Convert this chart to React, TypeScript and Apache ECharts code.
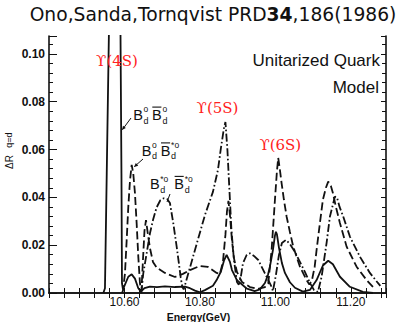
import React, { useEffect, useRef } from "react";
import * as echarts from "echarts";

// axis ranges and tick labels
const xMin = 10.4;
const xMax = 11.293;
const yMin = 0;
const yMax = 0.1075;
const xLabeledTicks = [10.6, 10.8, 11.0, 11.2];
const yLabeledTicks = [0, 0.02, 0.04, 0.06, 0.08, 0.1];

// B_d B_d-bar (solid)
const bbSolid: (number | string)[][] = [
  [10.544, 0], [10.5483, 0.002], [10.553, 0.05], [10.5589, 0.11], [10.563, 0.2], [10.585, 0.2],
  [10.5894, 0.11], [10.592, 0.05], [10.5934, 0.004], [10.596, 0.0015], [10.6013, 0.0035],
  [10.6101, 0.0068], [10.6191, 0.0078], [10.6278, 0.006], [10.6366, 0.002], [10.6437, 0.0006],
  [10.653, 0.002], [10.6675, 0.0027], [10.6861, 0.0025], [10.7073, 0.0028], [10.7338, 0.0025],
  [10.7603, 0.0027], [10.7735, 0.002], [10.7868, 0.001], [10.8, 0.0003], [10.8132, 0.0012],
  [10.8344, 0.003], [10.8442, 0.0054], [10.8556, 0.009], [10.8636, 0.0135], [10.8707, 0.0159],
  [10.8795, 0.013], [10.8848, 0.0096], [10.898, 0.0054], [10.9245, 0.0018], [10.945, 0.0008],
  [10.9589, 0.0015], [10.9722, 0.0042], [10.9801, 0.0075], [10.9854, 0.011], [10.9934, 0.018],
  [10.9987, 0.024], [11.0013, 0.0256], [11.004, 0.0245], [11.0093, 0.019], [11.0172, 0.0125],
  [11.0252, 0.0084], [11.0384, 0.0045], [11.0517, 0.0022], [11.0728, 0.0006], [11.0914, 0.0013],
  [11.1091, 0.0054], [11.1258, 0.0115], [11.1399, 0.0135], [11.1523, 0.012], [11.1709, 0.0068],
  [11.1973, 0.0026], [11.2318, 0.0005], [11.2583, 0],
];

// B_d B_d*-bar (dashed)
const bbStarDashed: number[][] = [
  [10.5934, 0], [10.596, 0.001], [10.6013, 0.0082], [10.6058, 0.022], [10.6101, 0.036],
  [10.6146, 0.047], [10.6191, 0.0536], [10.6233, 0.05], [10.6278, 0.0417], [10.6323, 0.029],
  [10.6366, 0.0152], [10.6411, 0.004], [10.6437, 0.0006], [10.645, 0.001], [10.649, 0.0138],
  [10.653, 0.026], [10.657, 0.0305], [10.6623, 0.0243], [10.6675, 0.0188], [10.6755, 0.013],
  [10.6861, 0.0105], [10.7073, 0.0084], [10.7338, 0.0067], [10.755, 0.008], [10.7735, 0.0096],
  [10.8, 0.0113], [10.8212, 0.0109], [10.8442, 0.0084], [10.853, 0.008], [10.8609, 0.013],
  [10.8675, 0.0243], [10.8715, 0.034], [10.8755, 0.0385], [10.8795, 0.0326], [10.8848, 0.022],
  [10.8901, 0.0146], [10.898, 0.0088], [10.9113, 0.0046], [10.9324, 0.0025], [10.9536, 0.0017],
  [10.9722, 0.0025], [10.981, 0.004], [10.9899, 0.018], [10.9987, 0.039], [11.004, 0.051],
  [11.0074, 0.0565], [11.0119, 0.0515], [11.0164, 0.0459], [11.0225, 0.039], [11.0297, 0.0319],
  [11.0384, 0.0255], [11.0472, 0.0194], [11.0649, 0.011], [11.0826, 0.0054], [11.09, 0.0035],
  [11.097, 0.0055], [11.104, 0.011], [11.1091, 0.018], [11.1179, 0.0293], [11.1258, 0.039],
  [11.1338, 0.044], [11.1399, 0.0466], [11.147, 0.0448], [11.1523, 0.0418], [11.1603, 0.036],
  [11.1709, 0.0293], [11.1886, 0.0194], [11.2151, 0.011], [11.2416, 0.0054], [11.2583, 0.0026],
  [11.265, 0.0015],
];

// B_d* B_d*-bar (dash-dot)
const bsbsDashDot: number[][] = [
  [10.644, 0], [10.6455, 0.0013], [10.6498, 0.0082], [10.6588, 0.0166], [10.6675, 0.025],
  [10.6763, 0.031], [10.6852, 0.0358], [10.695, 0.0388], [10.704, 0.0396], [10.713, 0.0393],
  [10.7205, 0.0376], [10.7293, 0.0292], [10.7383, 0.0194], [10.745, 0.0115], [10.749, 0.0065],
  [10.7531, 0.0026], [10.757, 0.0015], [10.7603, 0.0033], [10.7868, 0.018], [10.8132, 0.0326],
  [10.8344, 0.0423], [10.8477, 0.0515], [10.8556, 0.0607], [10.8636, 0.069], [10.8675, 0.0715],
  [10.8728, 0.0598], [10.8781, 0.0431], [10.8834, 0.0264], [10.8901, 0.0138], [10.898, 0.0046],
  [10.903, 0.0035], [10.908, 0.0065], [10.9139, 0.0124], [10.924, 0.016], [10.9324, 0.0166],
  [10.943, 0.0155], [10.9545, 0.0138], [10.9722, 0.0082], [10.9899, 0.0026], [10.9934, 0.0008],
  [11.0013, 0.0075], [11.0093, 0.0159], [11.0172, 0.0209], [11.0278, 0.0222], [11.0384, 0.0205],
  [11.0517, 0.0172], [11.0649, 0.013], [11.0781, 0.0088], [11.0914, 0.0042], [11.102, 0.0013],
  [11.1126, 0.0004], [11.1224, 0.0068], [11.1356, 0.021], [11.1444, 0.032], [11.1576, 0.0403],
  [11.163, 0.04], [11.17, 0.036], [11.1796, 0.032], [11.1973, 0.0236], [11.2238, 0.0152],
  [11.2503, 0.0084], [11.2715, 0.0042], [11.278, 0.003],
];

const INK = "#111";
const RED = "#ff2020";
const SANS = "'Liberation Sans', Arial, sans-serif";
const NARROW = "'Liberation Sans Narrow', 'Liberation Sans', Arial, sans-serif";

function txt(x: number, y: number, text: string, size: number, opts: any = {}) {
  const align = opts.align || "left";
  return {
    type: "text",
    x,
    y,
    rotation: opts.rotation || 0,
    z: 100,
    style: {
      text,
      fill: opts.fill || INK,
      fontSize: size,
      fontFamily: opts.family || SANS,
      fontWeight: opts.weight || "normal",
      align,
      verticalAlign: "middle",
      textAlign: align,
      textVerticalAlign: "middle",
      rich: opts.rich,
    },
  };
}

function ln(x1: number, y1: number, x2: number, y2: number, w = 1) {
  return { type: "line", z: 100, shape: { x1, y1, x2, y2 }, style: { stroke: INK, lineWidth: w } };
}

function head(points: number[][]) {
  return { type: "polygon", z: 100, shape: { points }, style: { fill: INK } };
}

// pair label: B^{s1}_d Bbar^{s2}_d
function pairLabel(x: number, y: number, s1: string, s2: string, gap: number) {
  const bw = 9.6;
  const els: any[] = [];
  els.push(txt(x, y, "B", 14.5));
  els.push(txt(x + bw + 0.6, y - 5.5, s1, 8.5));
  els.push(txt(x + bw + 0.6, y + 5.8, "d", 9));
  const x2 = x + gap;
  els.push(txt(x2, y, "B", 14.5));
  els.push(ln(x2 + 0.3, y - 7.6, x2 + 9.4, y - 7.6, 1.1));
  els.push(txt(x2 + bw + 0.8, y - 5.5, s2, 8.5));
  els.push(txt(x2 + bw + 0.8, y + 5.8, "d", 9));
  return els;
}

export default function App() {
  const ref = useRef<HTMLDivElement>(null);

  useEffect(() => {
    if (!ref.current) return;
    const chart = echarts.init(ref.current, undefined, { renderer: "svg" });

    const isLabeledX = (v: number) => xLabeledTicks.some((t) => Math.abs(t - v) < 1e-6);
    const isLabeledY = (v: number) => yLabeledTicks.some((t) => Math.abs(t - v) < 1e-6);

    const axisLine = { show: true, lineStyle: { color: INK, width: 1.6 } };

    const graphic: any[] = [
      txt(213, 14.5, "{n|Ono,Sanda,Tornqvist PRD}{b|34}{n|,186(1986)}", 18.7, {
        align: "center",
        family: "'DejaVu Sans', sans-serif",
        rich: {
          n: { fontSize: 18.7, fontFamily: "'DejaVu Sans', sans-serif", fill: INK },
          b: { fontSize: 18.7, fontFamily: "'DejaVu Sans', sans-serif", fontWeight: "bold", fill: INK },
        },
      }),
      txt(380, 60, "Unitarized Quark", 17, { align: "right" }),
      txt(379, 87.5, "Model", 17, { align: "right" }),
      txt(117, 60.5, "ϒ(4S)", 15, { align: "center", fill: RED, family: "'DejaVu Serif', serif" }),
      txt(217.5, 108, "ϒ(5S)", 15, { align: "center", fill: RED, family: "'DejaVu Serif', serif" }),
      txt(280.3, 145, "ϒ(6S)", 15, { align: "center", fill: RED, family: "'DejaVu Serif', serif" }),
      txt(198.5, 316.5, "Energy(GeV)", 10.5, { align: "center", weight: "bold" }),
      txt(9.5, 162, "ΔR", 10, { align: "center", rotation: Math.PI / 2 }),
      txt(9, 140, "q=d", 9, { align: "center", rotation: Math.PI / 2 }),
      ...pairLabel(133.3, 114.7, "o", "o", 18.7),
      ...pairLabel(141.7, 150.5, "o", "*o", 19),
      ...pairLabel(150, 184, "*o", "*o", 24.3),
      ln(131, 118, 122.5, 129.5),
      head([[122, 130], [125.8, 127.9], [123, 125.7]]),
      ln(143, 159, 134.5, 166.5),
      head([[134, 167], [138.2, 165.7], [135.8, 163]]),
      ln(170, 194, 167, 202),
    ];

    const lineSeries = (name: string, data: any[], type: any) => ({
      name,
      type: "line",
      data,
      showSymbol: false,
      symbol: "none",
      clip: true,
      smooth: false,
      lineStyle: { color: INK, width: 1.8, type, cap: "butt" },
      emphasis: { disabled: true },
      silent: true,
      z: 3,
    });

    chart.setOption({
      animation: false,
      backgroundColor: "#fff",
      grid: { left: 49, right: 16, top: 36, bottom: 29, containLabel: false },
      xAxis: [
        {
          type: "value",
          position: "bottom",
          min: xMin,
          max: xMax,
          interval: 0.04,
          axisLine,
          axisTick: { show: true, inside: true, length: 5, lineStyle: { color: INK, width: 1 } },
          axisLabel: {
            show: true,
            margin: 3,
            color: INK,
            fontSize: 12,
            fontFamily: NARROW,
            formatter: (v: number) => (isLabeledX(v) ? v.toFixed(2) : ""),
            showMinLabel: true,
            showMaxLabel: true,
          },
          splitLine: { show: false },
        },
        {
          type: "value",
          position: "top",
          min: xMin,
          max: xMax,
          interval: 0.04,
          axisLine,
          axisTick: { show: true, inside: true, length: 5, lineStyle: { color: INK, width: 1 } },
          axisLabel: { show: false },
          splitLine: { show: false },
        },
      ],
      yAxis: [
        {
          type: "value",
          position: "left",
          min: yMin,
          max: yMax,
          interval: 0.02,
          axisLine,
          axisTick: { show: true, inside: true, length: 8, lineStyle: { color: INK, width: 1 } },
          minorTick: { show: true, splitNumber: 5, length: 4, lineStyle: { color: INK, width: 1 } },
          axisLabel: {
            show: true,
            margin: 4,
            color: INK,
            fontSize: 12,
            fontWeight: "bold",
            fontFamily: NARROW,
            formatter: (v: number) => (isLabeledY(v) ? v.toFixed(2) : ""),
          },
          splitLine: { show: false },
          minorSplitLine: { show: false },
        },
        {
          type: "value",
          position: "right",
          min: yMin,
          max: yMax,
          interval: 0.02,
          axisLine,
          axisTick: { show: true, inside: true, length: 5, lineStyle: { color: INK, width: 1 } },
          minorTick: { show: true, splitNumber: 5, length: 4, lineStyle: { color: INK, width: 1 } },
          axisLabel: { show: false },
          splitLine: { show: false },
          minorSplitLine: { show: false },
        },
      ],
      series: [
        lineSeries("BdBd", bbSolid, "solid"),
        lineSeries("BdBd*", bbStarDashed, [8, 3.5]),
        lineSeries("Bd*Bd*", bsbsDashDot, [8, 2.5, 1.6, 2.5]),
      ],
      graphic,
    });

    return () => chart.dispose();
  }, []);

  return (
    <div
      ref={ref}
      style={{ position: "fixed", left: 0, top: 0, width: 402, height: 322, background: "#fff" }}
    />
  );
}
